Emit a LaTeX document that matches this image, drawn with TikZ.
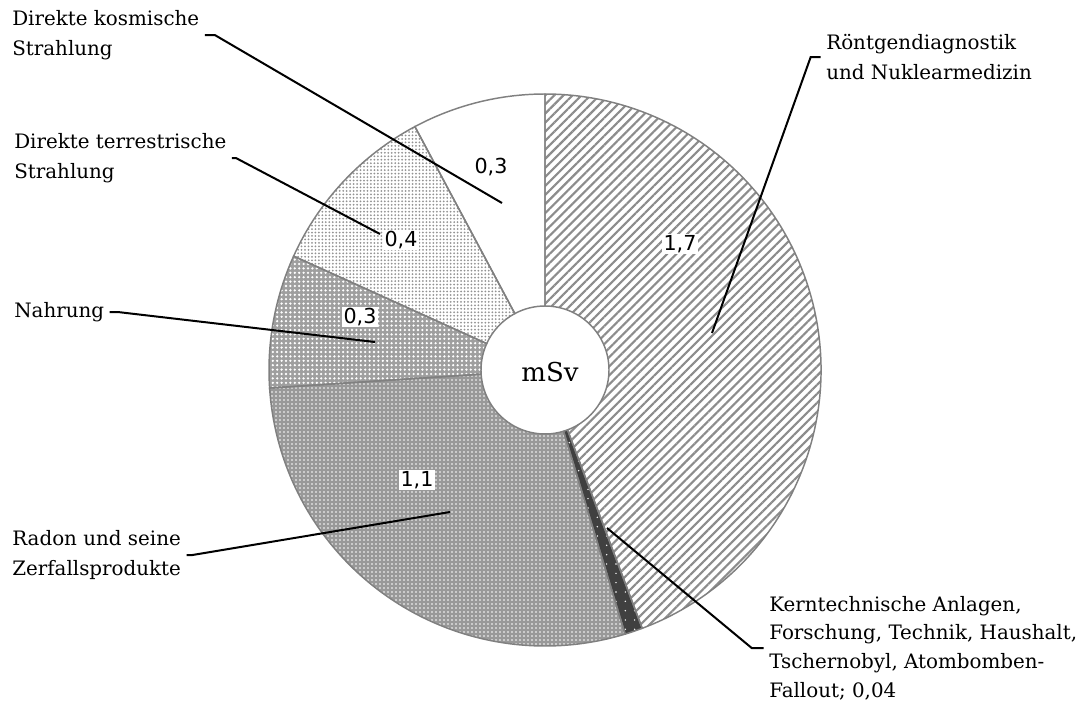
\documentclass[tikz,border=0pt]{standalone}
\usepackage{fontspec}
\setmainfont{DejaVu Serif}
\setsansfont{DejaVu Sans}
\usetikzlibrary{patterns.meta}

\tikzset{
  leader/.style={draw=black, line width=1.5pt},
  outline/.style={draw=gray, line width=1.1pt},
  val/.style={font=\sffamily\fontsize{15.5}{18}\selectfont, fill=white, inner sep=1pt},
  lbl/.style={font=\fontsize{14.9}{22.5}\selectfont, align=left, inner xsep=4pt, inner ysep=0pt, anchor=west},
  roentfill/.style={pattern={Lines[angle=45,distance=4.8pt,line width=1.6pt]}, pattern color=gray!90},
  kernfill/.style={fill=black!75, postaction={pattern={Dots[distance=7pt,radius=0.6pt]}, pattern color=white}},
  radonfill/.style={fill=gray!80, postaction={pattern={Dots[distance=3pt,radius=0.65pt]}, pattern color=white}},
  nahrfill/.style={fill=gray!75, postaction={pattern={Dots[distance=3.3pt,radius=0.95pt]}, pattern color=white}},
  terrfill/.style={fill=white, postaction={pattern={Dots[distance=2.6pt,radius=0.75pt]}, pattern color=gray!85}},
  kosmfill/.style={fill=white}
}

\begin{document}
\begin{tikzpicture}[x=0.75pt,y=-0.75pt]
  \useasboundingbox (0,0) rectangle (1083,704);
  % ring segments, clockwise from the top
  \begin{scope}[shift={(545,370)},y=0.75pt]
    \foreach \a/\b/\sty in {90/-69.375/roentfill, -69.375/-73.125/kernfill,
        -73.125/-176.25/radonfill, -176.25/-204.375/nahrfill,
        -204.375/-241.875/terrfill, -241.875/-270/kosmfill}
      \path[\sty] (\a:64) arc[start angle=\a, end angle=\b, radius=64]
        -- (\b:276) arc[start angle=\b, end angle=\a, radius=276] -- cycle;
    \foreach \a/\b in {90/-69.375, -69.375/-73.125, -73.125/-176.25,
        -176.25/-204.375, -204.375/-241.875, -241.875/-270}
      \path[outline] (\a:64) arc[start angle=\a, end angle=\b, radius=64]
        -- (\b:276) arc[start angle=\b, end angle=\a, radius=276] -- cycle;
  \end{scope}
  \node (unit) at (550,372) {\fontsize{19.5}{22}\selectfont mSv};

  % outer labels
  \node[lbl] (lKosm) at (6.7,35) {Direkte kosmische\\Strahlung};
  \node[lbl] (lTerr) at (8.7,158) {Direkte terrestrische\\Strahlung};
  \node[lbl] (lNahr) at (8.7,312) {Nahrung};
  \node[lbl] (lRadon) at (6.7,555) {Radon und seine\\Zerfallsprodukte};
  \node[lbl] (lRoent) at (820.7,57) {Röntgendiagnostik\\und Nuklearmedizin};
  \node[lbl, font=\fontsize{14.9}{21.5}\selectfont] (lKern) at (763.7,648)
    {Kerntechnische Anlagen,\\Forschung, Technik, Haushalt,\\Tschernobyl, Atombomben-\\Fallout; 0,04};

  \coordinate (pKosm) at (502,203);
  \coordinate (pTerr) at (380,234);
  \coordinate (pNahr) at (375,342);
  \coordinate (pRadon) at (450,512);
  \coordinate (pRoent) at (712,333);
  \coordinate (pKern) at (607,528);

  \draw[leader] (lKosm.east) -- ++(10,0) -- (pKosm);
  \draw[leader] (lTerr.east) -- ++(4,0) -- (pTerr);
  \draw[leader] (lNahr.east) -- ++(8,0) -- (pNahr);
  \draw[leader] (lRadon.east) -- ++(6,0) -- (pRadon);
  \draw[leader] (lRoent.west) -- ++(-10,0) -- (pRoent);
  \draw[leader] (lKern.west) -- ++(-12,0) -- (pKern);

  % values in the segments
  \node[val] (vRoent) at (680,244) {1,7};
  \node[val] (vKosm) at (491,167) {0,3};
  \node[val] (vTerr) at (401,240) {0,4};
  \node[val] (vNahr) at (360,317) {0,3};
  \node[val] (vRadon) at (417,480) {1,1};
\end{tikzpicture}
\end{document}
